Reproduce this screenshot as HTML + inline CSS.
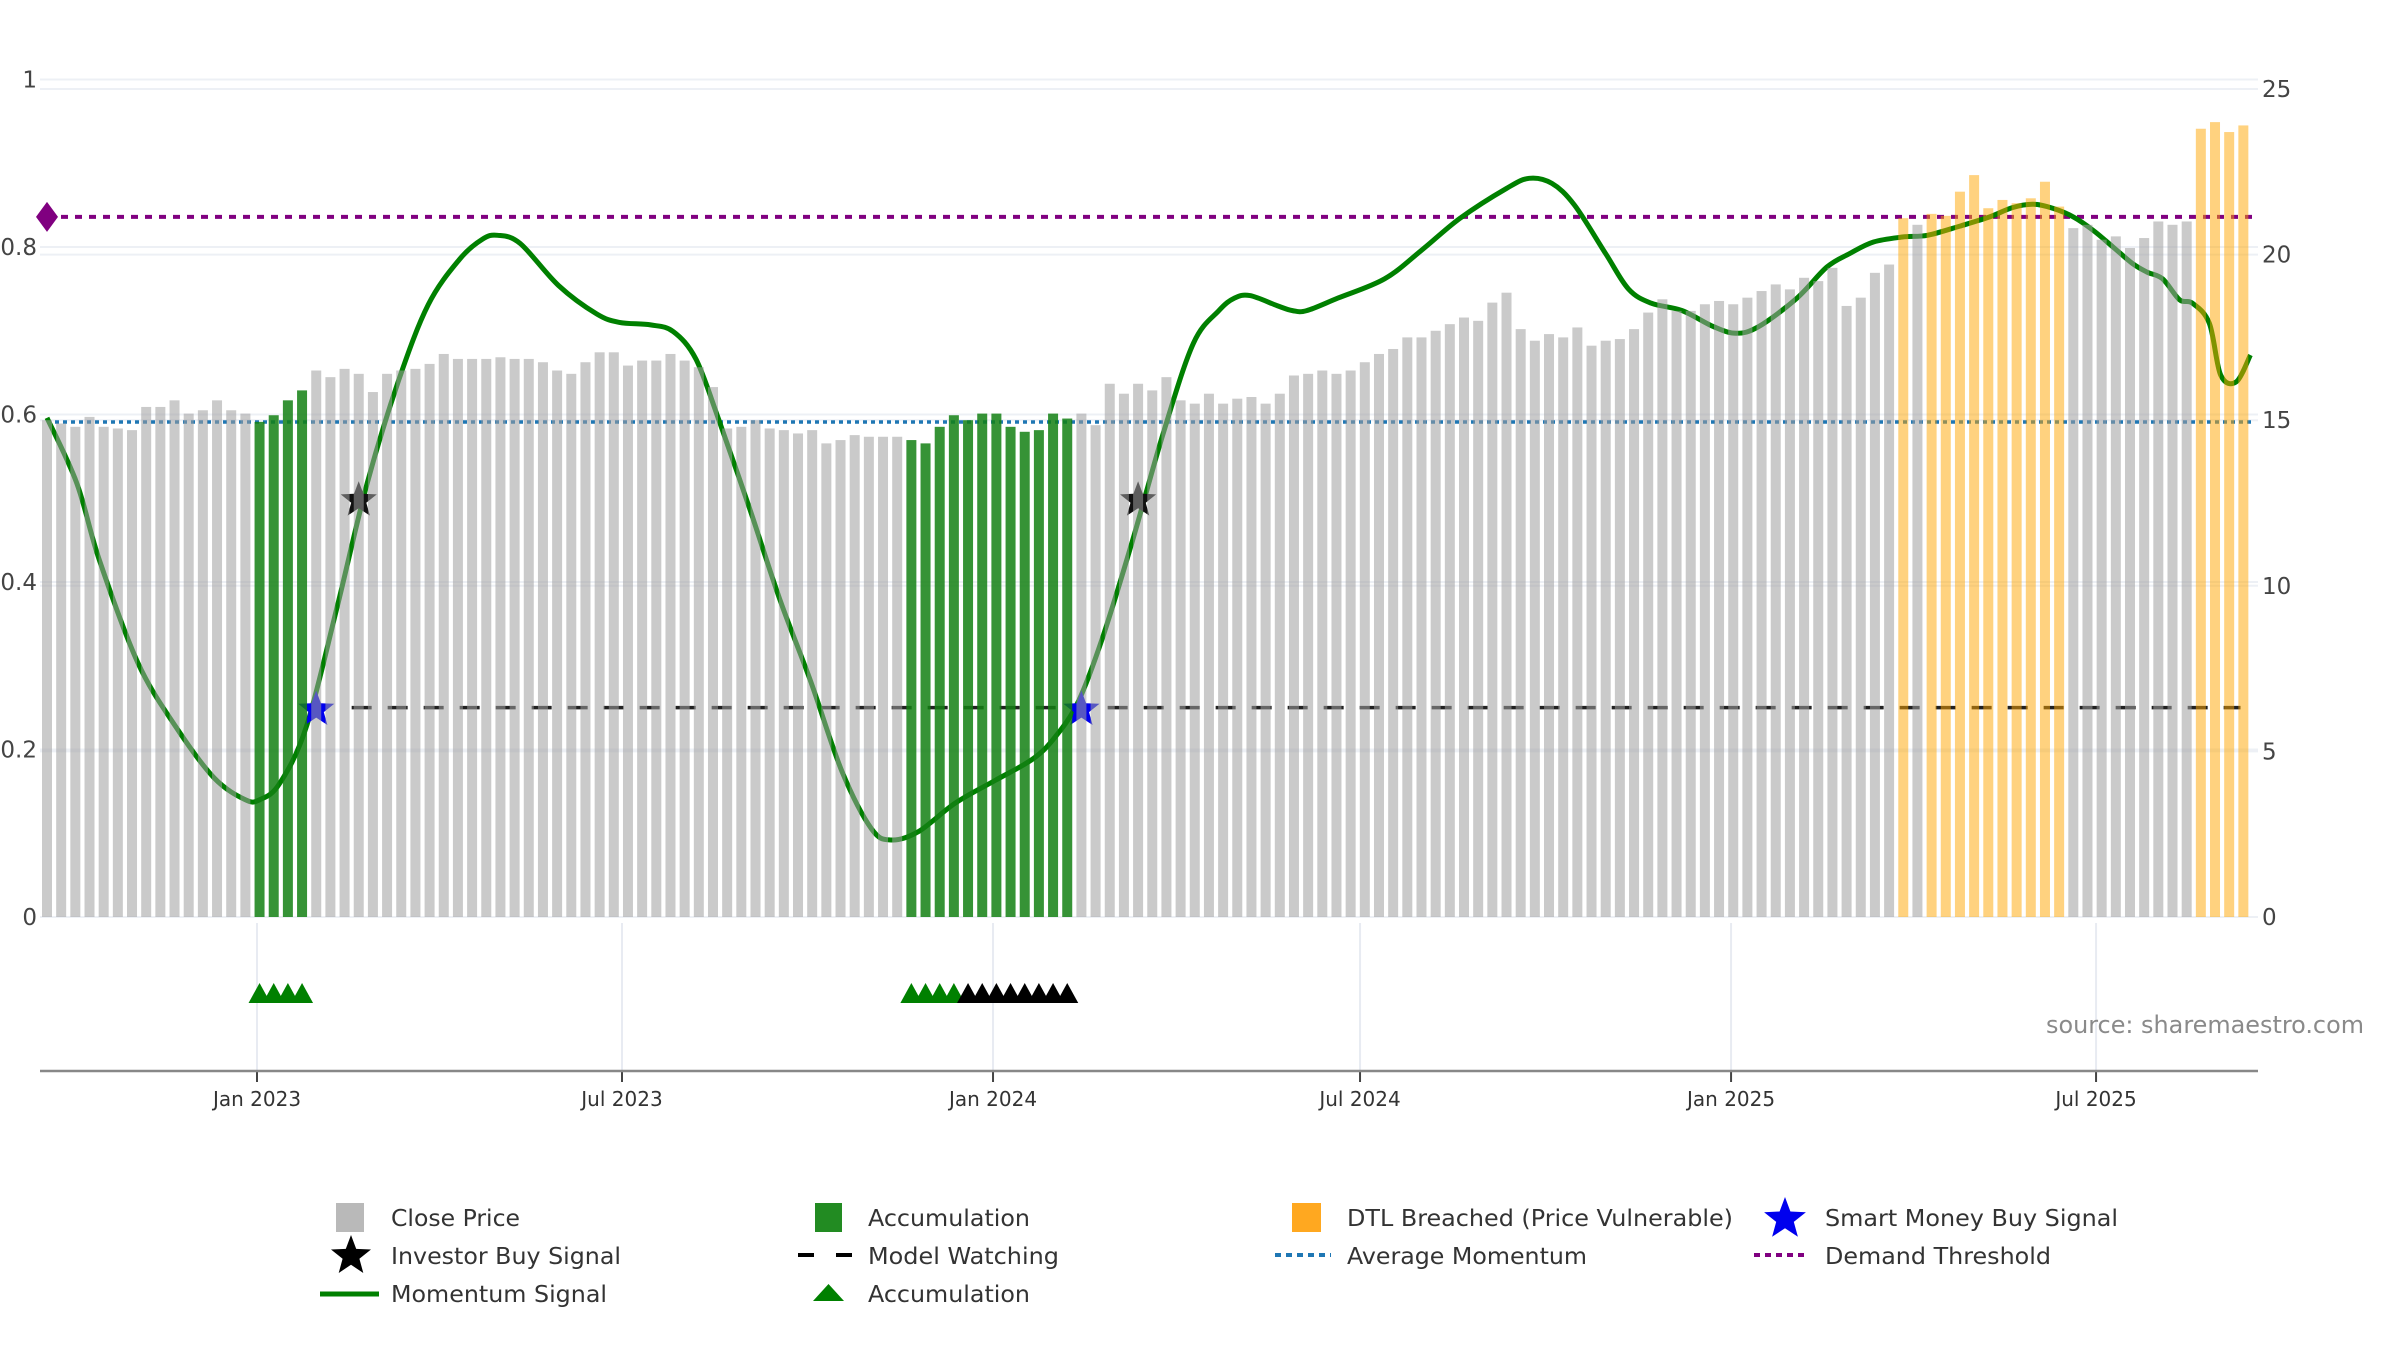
<!DOCTYPE html>
<html>
<head>
<meta charset="utf-8">
<style>
  html,body{margin:0;padding:0;background:#fff;}
  svg{display:block;}
  text{font-family:"DejaVu Sans","Liberation Sans",sans-serif;}
</style>
</head>
<body>
<svg id="chart" width="2400" height="1350" viewBox="0 0 2400 1350" xmlns="http://www.w3.org/2000/svg">
  <rect x="0" y="0" width="2400" height="1350" fill="#ffffff"/>
  <g id="grid"></g>
  <g id="lines"></g>
  <g id="bars"></g>
  <g id="lower"></g>
  <g id="axes"></g>
  <text x="2046" y="1033" font-size="24" fill="#8a8a8a" textLength="318" lengthAdjust="spacingAndGlyphs">source: sharemaestro.com</text>
  <g id="legend">
    <rect x="336" y="1203" width="28" height="29" fill="#b9b9b9"/>
    <text x="391" y="1226" font-size="23" fill="#333" textLength="129" lengthAdjust="spacingAndGlyphs">Close Price</text>
    <polygon id="lgStarBlack" fill="#000"/>
    <text x="391" y="1264" font-size="23" fill="#333" textLength="230" lengthAdjust="spacingAndGlyphs">Investor Buy Signal</text>
    <line x1="320" y1="1294" x2="379" y2="1294" stroke="#008000" stroke-width="5"/>
    <text x="391" y="1302" font-size="23" fill="#333" textLength="216" lengthAdjust="spacingAndGlyphs">Momentum Signal</text>

    <rect x="815" y="1203" width="27" height="29" fill="#228B22"/>
    <text x="868" y="1226" font-size="23" fill="#333" textLength="162" lengthAdjust="spacingAndGlyphs">Accumulation</text>
    <line x1="798" y1="1255" x2="852" y2="1255" stroke="#000" stroke-width="4" stroke-dasharray="16,22"/>
    <text x="868" y="1264" font-size="23" fill="#333" textLength="191" lengthAdjust="spacingAndGlyphs">Model Watching</text>
    <polygon points="813,1301 844,1301 828.5,1284" fill="#008000"/>
    <text x="868" y="1302" font-size="23" fill="#333" textLength="162" lengthAdjust="spacingAndGlyphs">Accumulation</text>

    <rect x="1292" y="1203" width="29" height="29" fill="#FFA820"/>
    <text x="1347" y="1226" font-size="23" fill="#333" textLength="386" lengthAdjust="spacingAndGlyphs">DTL Breached (Price Vulnerable)</text>
    <line x1="1275" y1="1255" x2="1331" y2="1255" stroke="#1f77b4" stroke-width="4" stroke-dasharray="6,5"/>
    <text x="1347" y="1264" font-size="23" fill="#333" textLength="240" lengthAdjust="spacingAndGlyphs">Average Momentum</text>

    <polygon id="lgStarBlue" fill="#0000ee"/>
    <text x="1825" y="1226" font-size="23" fill="#333" textLength="293" lengthAdjust="spacingAndGlyphs">Smart Money Buy Signal</text>
    <line x1="1754" y1="1255" x2="1809" y2="1255" stroke="#800080" stroke-width="4" stroke-dasharray="6,5"/>
    <text x="1825" y="1264" font-size="23" fill="#333" textLength="226" lengthAdjust="spacingAndGlyphs">Demand Threshold</text>
  </g>
</svg>
<script>
// ---------- data ----------
const closePrices = [
15.0,14.9,14.8,15.1,14.8,14.75,14.7,15.4,15.4,15.6,15.2,15.3,15.6,15.3,15.2,
14.95,15.15,15.6,15.9,
16.5,16.3,16.55,16.4,15.85,16.4,16.5,16.55,16.7,17.0,16.85,16.85,16.85,16.9,16.85,16.85,16.75,16.5,16.4,16.75,17.05,17.05,16.65,16.8,16.8,17.0,16.8,16.6,
16.0,
14.75,14.8,15.0,14.75,14.7,14.6,14.7,14.3,14.4,14.55,14.5,14.5,14.5,
14.4,14.3,14.8,15.15,15.0,15.2,15.2,14.8,14.65,14.7,15.2,15.05,
15.2,14.85,16.1,15.8,16.1,15.9,16.3,15.6,
15.5,15.8,15.5,15.65,15.7,15.5,15.8,16.35,16.4,16.5,16.4,16.5,16.75,17.0,17.15,17.5,17.5,17.7,17.9,18.1,
18.0,18.55,18.85,17.75,17.4,17.6,17.5,17.8,17.25,17.4,17.45,17.75,18.25,18.65,18.3,18.3,18.5,18.6,18.5,18.7,
18.9,19.1,18.95,19.3,19.2,19.6,18.45,18.7,19.45,19.7,
21.1,20.9,21.23,21.17,21.9,22.4,21.4,21.65,21.55,21.7,22.2,21.45,20.8,20.9,20.45,20.55,20.2,20.5,21.0,20.9,21.0,23.8,24.0,23.7,23.9
];
const accumulationBars = [15,16,17,18,61,62,63,64,65,66,67,68,69,70,71,72];
const dtlBars = [131,133,134,135,136,137,138,139,140,141,142,152,153,154,155];
const momentumWeek = [0,2.1,3.7,6.4,9.1,11.8,14.0,15.0,16.4,18.3,20.5,22.6,24.8,26.9,29.1,30.7,31.8,33.4,36.1,38.8,40.4,42.6,44.2,45.8,47.4,49.6,51.7,53.9,56.1,58.2,59.6,61.5,64.1,66.9,69.6,71.2,72.8,74.5,76.6,78.8,80.9,82.7,83.8,84.9,86.8,87.9,88.9,91.1,94.4,97.0,99.7,103.0,104.6,106.2,107.8,110.0,111.6,113.2,115.4,117.6,119.2,120.8,123.5,125.6,127.2,128.9,131.0,132.7,135.0,137.1,138.7,140.2,141.6,143.0,144.4,145.8,147.2,148.2,149.3,150.5,151.4,152.6,153.4,154.5,155.5];
const momentumValue = [0.596,0.518,0.426,0.304,0.227,0.166,0.140,0.140,0.159,0.227,0.372,0.518,0.640,0.731,0.785,0.809,0.814,0.804,0.754,0.720,0.710,0.707,0.699,0.666,0.594,0.487,0.380,0.281,0.174,0.105,0.092,0.102,0.136,0.163,0.189,0.216,0.258,0.334,0.449,0.579,0.685,0.724,0.739,0.742,0.730,0.724,0.724,0.739,0.762,0.796,0.834,0.870,0.882,0.876,0.850,0.792,0.750,0.733,0.724,0.705,0.697,0.705,0.739,0.776,0.792,0.806,0.812,0.814,0.825,0.836,0.847,0.851,0.846,0.836,0.820,0.800,0.780,0.770,0.762,0.737,0.733,0.709,0.647,0.639,0.671];
const demandThreshold = 0.836;
const averageMomentum = 0.591;
const modelWatchingLevel = 0.25;
const modelWatchingStart = 21.5;
const modelWatchingEnd = 154.8;
const investorBuyWeeks = [22,77];
const investorBuyLevel = [0.5,0.5];
const smartMoneyWeeks = [19,73];
const smartMoneyLevel = [0.25,0.25];
const accumTriangleWeeks = [15,16,17,18,61,62,63,64];
const watchTriangleWeeks = [65,66,67,68,69,70,71,72];
const leftTicks = [0,0.2,0.4,0.6,0.8,1];
const leftTickLabels = ["0","0.2","0.4","0.6","0.8","1"];
const rightTicks = [0,5,10,15,20,25];
const dateTickDays = [0,181,365,547,731,912];
const dateTickLabels = ["Jan 2023","Jul 2023","Jan 2024","Jul 2024","Jan 2025","Jul 2025"];

// ---------- scales ----------
const NS = "http://www.w3.org/2000/svg";
const PLOT_L = 40, PLOT_R = 2258, BASE = 917;
function xW(i){ return 47 + i*14.17; }
function yL(v){ return BASE - v*837.5; }
function yR(p){ return BASE - p*828/25; }
function xDay(d){ return 257 + d*2.0165; }
function mk(tag, attrs, parent){
  const e = document.createElementNS(NS, tag);
  for (const k in attrs) e.setAttribute(k, attrs[k]);
  parent.appendChild(e);
  return e;
}
function starPts(cx, cy, R){
  const r = R*0.42, pts=[];
  for (let k=0;k<10;k++){
    const a = -Math.PI/2 + k*Math.PI/5;
    const rr = k%2===0 ? R : r;
    pts.push((cx+rr*Math.cos(a)).toFixed(1)+","+(cy+rr*Math.sin(a)).toFixed(1));
  }
  return pts.join(" ");
}
const gGrid = document.getElementById('grid');
const gLines = document.getElementById('lines');
const gBars = document.getElementById('bars');
const gLower = document.getElementById('lower');
const gAxes = document.getElementById('axes');

// grid
leftTicks.forEach((v,i)=>{
  const l = mk('line',{x1:PLOT_L,x2:PLOT_R,y1:yL(v),y2:yL(v),stroke:'#edf0f5','stroke-width':2},gGrid);
  
  
  const t = mk('text',{x:37,y:yL(v)+8,'font-size':23,fill:'#444','text-anchor':'end'},gAxes);
  t.textContent = leftTickLabels[i];
  
  
});
rightTicks.forEach(p=>{
  const l = mk('line',{x1:PLOT_L,x2:PLOT_R,y1:yR(p),y2:yR(p),stroke:'#edf0f5','stroke-width':2},gGrid);
  
  
  const t = mk('text',{x:2262,y:yR(p)+8,'font-size':23,fill:'#444'},gAxes);
  t.textContent = String(p);
  
  
});

// horizontal signal lines
const dl = mk('line',{x1:47,x2:2252,y1:yL(demandThreshold),y2:yL(demandThreshold),stroke:'#800080','stroke-width':4,'stroke-dasharray':'7,7'},gLines);


const dm = mk('polygon',{points:`36,${yL(demandThreshold)} 47,${yL(demandThreshold)-15} 58,${yL(demandThreshold)} 47,${yL(demandThreshold)+15}`,fill:'#800080'},gLines);


const al = mk('line',{x1:47,x2:2252,y1:yL(averageMomentum),y2:yL(averageMomentum),stroke:'#1f77b4','stroke-width':3.5,'stroke-dasharray':'4,4'},gLines);


const mw = mk('line',{x1:xW(modelWatchingStart),x2:xW(modelWatchingEnd),y1:yL(modelWatchingLevel),y2:yL(modelWatchingLevel),stroke:'#222','stroke-width':3.5,'stroke-dasharray':'20,16'},gLines);



// momentum curve (Catmull-Rom)
const P = momentumWeek.map((w,i)=>[xW(w), yL(momentumValue[i])]);
let d = `M${P[0][0]},${P[0][1]}`;
for (let i=0;i<P.length-1;i++){
  const p0=P[Math.max(0,i-1)], p1=P[i], p2=P[i+1], p3=P[Math.min(P.length-1,i+2)];
  const c1=[p1[0]+(p2[0]-p0[0])/6, p1[1]+(p2[1]-p0[1])/6];
  const c2=[p2[0]-(p3[0]-p1[0])/6, p2[1]-(p3[1]-p1[1])/6];
  d += ` C${c1[0].toFixed(1)},${c1[1].toFixed(1)} ${c2[0].toFixed(1)},${c2[1].toFixed(1)} ${p2[0].toFixed(1)},${p2[1].toFixed(1)}`;
}
const ml = mk('path',{d:d,fill:'none',stroke:'#008000','stroke-width':5,'stroke-linejoin':'round'},gLines);



// stars
investorBuyWeeks.forEach((w,i)=>{
  const s = mk('polygon',{points:starPts(xW(w),yL(investorBuyLevel[i])+2,19),fill:'#111'},gLines);
  
  
});
smartMoneyWeeks.forEach((w,i)=>{
  const s = mk('polygon',{points:starPts(xW(w),yL(smartMoneyLevel[i])+2,19),fill:'#0000ee'},gLines);
  
  
});

// bars
closePrices.forEach((p,i)=>{
  let fill='#9e9e9e', op=0.55, name='close-price-bar';
  if (accumulationBars.includes(i)){ fill='#138013'; op=0.85; name='accumulation-bar'; }
  else if (dtlBars.includes(i)){ fill='#FFA500'; op=0.5; name='dtl-breached-bar'; }
  const r = mk('rect',{x:xW(i)-5,y:yR(p),width:10,height:BASE-yR(p),fill:fill,'fill-opacity':op},gBars);
  
  
});

// lower subplot
dateTickDays.forEach((dd,i)=>{
  const x = xDay(dd);
  const g = mk('line',{x1:x,x2:x,y1:923,y2:1071,stroke:'#e8ebf2','stroke-width':2},gLower);
  
  
  const tk = mk('line',{x1:x,x2:x,y1:1071,y2:1082,stroke:'#444','stroke-width':2},gAxes);
  
  
  const t = mk('text',{x:x,y:1106,'font-size':20,fill:'#333','text-anchor':'middle'},gAxes);
  t.textContent = dateTickLabels[i];
  
  
});
const ax = mk('line',{x1:PLOT_L,x2:PLOT_R,y1:1071,y2:1071,stroke:'#888','stroke-width':2.5},gAxes);


function tri(w,color,name){
  const x = xW(w);
  const t = mk('polygon',{points:`${x-11},1003 ${x+11},1003 ${x},983`,fill:color},gLower);
  
  
}
accumTriangleWeeks.forEach(w=>tri(w,'#008000','accumulation-triangle'));
watchTriangleWeeks.forEach(w=>tri(w,'#000000','watching-triangle'));

// legend stars
document.getElementById('lgStarBlack').setAttribute('points', starPts(351,1256,21));
document.getElementById('lgStarBlue').setAttribute('points', starPts(1785,1219,22));
</script>
</body>
</html>
